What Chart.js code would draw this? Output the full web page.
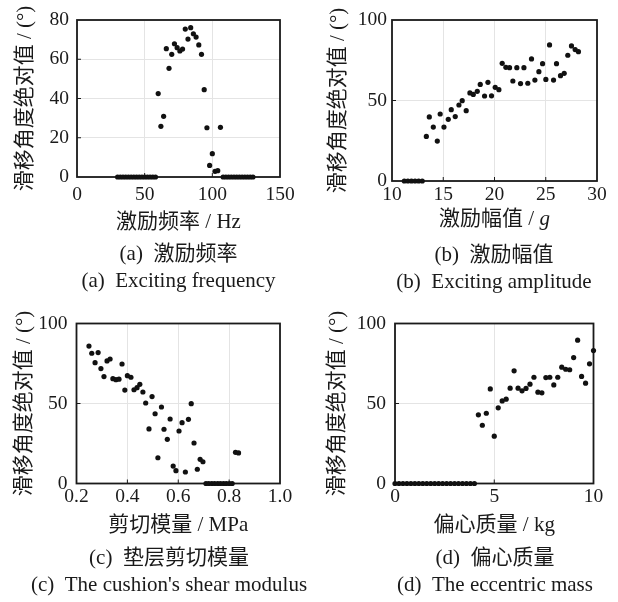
<!DOCTYPE html>
<html><head><meta charset="utf-8">
<script src="https://cdn.jsdelivr.net/npm/chart.js@4/dist/chart.umd.min.js"></script>
<style>
html,body{margin:0;padding:0;background:#fff;overflow:hidden;width:618px;height:602px;position:relative;}
canvas{position:absolute;}
</style></head><body>
<canvas id="ca" width="357" height="301" style="left:0px;top:0px"></canvas>
<canvas id="cb" width="370" height="301" style="left:309px;top:0px"></canvas>
<canvas id="cc" width="338" height="301" style="left:0px;top:301px"></canvas>
<canvas id="cd" width="372" height="301" style="left:309px;top:301px"></canvas>
<script>
// ---------- (a) exciting frequency ----------
const freqX = [30,32,34,36,38,40,42,44,46,48,50,52,54,56,58,
  60,62,64,66,68,70,72,74,76,78,80,82,84,86,88,90,92,94,96,98,100,102,104,106,
  108,110,112,114,116,118,120,122,124,126,128,130];
const freqY = [0,0,0,0,0,0,0,0,0,0,0,0,0,0,0,
  42.5,25.8,30.9,65.4,55.4,62.5,67.9,65.9,64.2,65.2,75.4,70.3,76.1,73.0,71.3,67.3,62.5,44.5,25.1,5.9,11.9,2.9,3.2,25.3,
  0,0,0,0,0,0,0,0,0,0,0,0];
const freqTicksX = [0,50,100,150];
const freqTicksY = [0,20,40,60,80];

// ---------- (b) exciting amplitude ----------
const ampX = [11.2,11.55,11.9,12.25,12.6,12.95,
  13.35,13.64,14.03,14.42,14.70,15.07,15.49,15.78,16.17,16.53,16.85,17.24,17.60,17.93,18.32,18.61,19.03,19.36,19.71,
  20.07,20.43,20.75,21.11,21.47,21.79,22.18,22.54,22.87,23.25,23.61,23.94,24.33,24.69,25.01,25.37,25.76,26.05,26.44,
  26.80,27.15,27.51,27.87,28.19];
const ampY = [0,0,0,0,0,0,
  27.7,39.8,33.5,24.8,41.6,33.5,38.3,44.3,40.0,47.2,49.9,43.7,54.7,53.8,55.7,60.0,52.8,61.3,52.9,
  58.2,56.7,73.1,70.6,70.4,62.1,70.4,60.5,70.4,60.7,75.8,62.7,67.9,72.9,63.1,84.5,62.7,72.9,65.4,
  66.9,78.1,83.9,81.6,80.3];
const ampTicksX = [10,15,20,25,30];
const ampTicksY = [0,50,100];

// ---------- (c) cushion shear modulus ----------
const modX = [0.249,0.260,0.273,0.285,0.296,0.308,0.320,0.332,0.343,0.355,0.367,0.379,0.390,0.400,0.414,0.426,
  0.438,0.449,0.461,0.472,0.485,0.497,0.509,0.520,0.534,0.544,0.557,0.568,0.580,0.591,0.603,0.615,0.628,0.640,
  0.651,0.662,0.675,0.686,0.697,
  0.709,0.720,0.732,0.743,0.755,0.766,0.778,0.789,0.801,0.812,
  0.825,0.837];
const modY = [85.9,81.4,75.5,81.8,71.8,66.8,76.6,77.8,65.5,64.9,65.2,74.7,58.4,67.4,66.4,58.6,
  59.9,62.0,57.2,50.3,34.1,54.3,43.6,16.1,47.8,33.9,27.6,40.3,10.9,8.0,32.8,38.0,7.2,40.1,
  49.9,25.3,8.9,15.1,13.6,
  0,0,0,0,0,0,0,0,0,0,
  19.5,19.1];
const modTicksX = [0.2,0.4,0.6,0.8,1.0];
const modTicksY = [0,50,100];

// ---------- (d) eccentric mass ----------
const massX = [0.0,0.2,0.4,0.6,0.8,1.0,1.2,1.4,1.6,1.8,2.0,2.2,2.4,2.6,2.8,3.0,3.2,3.4,3.6,3.8,4.0,
  4.2,4.4,4.6,4.8,5.0,5.2,5.4,5.6,5.8,6.0,6.2,6.4,6.6,6.8,7.0,7.2,7.4,7.6,7.8,8.0,8.2,8.4,8.6,8.8,
  9.0,9.2,9.4,9.6,9.8,10.0];
const massY = [0,0,0,0,0,0,0,0,0,0,0,0,0,0,0,0,0,0,0,0,0,
  42.9,36.4,43.9,59.1,29.6,47.3,51.6,52.7,59.6,70.4,59.6,57.9,59.4,62.1,66.4,57.1,56.7,66.2,66.4,61.6,66.4,72.7,71.4,71.1,
  78.7,89.6,66.9,62.7,74.8,83.1];
const massTicksX = [0,5,10];
const massTicksY = [0,50,100];

const yTitleText = '滑移角度绝对值 / (°)';

const SERIF = "'Liberation Serif','Times New Roman',serif";
const MIXED = "'Liberation Serif','Noto Sans CJK SC',serif";

const framePlugin = {
  id: 'frame',
  beforeDatasetsDraw(chart) {
    const {ctx, chartArea: a, scales} = chart;
    ctx.save();
    ctx.strokeStyle = '#1a1a1a';
    ctx.lineWidth = 1;
    scales.x.ticks.forEach(t => {
      if (t.value === scales.x.min || t.value === scales.x.max) return;
      const p = scales.x.getPixelForValue(t.value);
      ctx.beginPath(); ctx.moveTo(p, a.bottom); ctx.lineTo(p, a.bottom - 4); ctx.stroke();
    });
    scales.y.ticks.forEach(t => {
      if (t.value === scales.y.min || t.value === scales.y.max) return;
      const p = scales.y.getPixelForValue(t.value);
      ctx.beginPath(); ctx.moveTo(a.left, p); ctx.lineTo(a.left + 4, p); ctx.stroke();
    });
    ctx.lineWidth = 1.8;
    ctx.strokeRect(a.left, a.top, a.right - a.left, a.bottom - a.top);
    ctx.restore();
  }
};

// draws an x-axis title made of an upright part and an italic unit symbol
const mixedTitlePlugin = {
  id: 'mixedTitle',
  afterDraw(chart, args, opts) {
    if (!opts || !opts.upright) return;
    const {ctx, chartArea: a, scales} = chart;
    const size = 21, lh = size * 1.2;
    const cy = scales.x.bottom - lh / 2 - (opts.pad || 0);
    const f1 = 'normal ' + size + 'px ' + MIXED;
    const f2 = 'italic ' + size + 'px ' + SERIF;
    ctx.save();
    ctx.font = f1; const w1 = ctx.measureText(opts.upright).width;
    ctx.font = f2; const w2 = ctx.measureText(opts.italic).width;
    const x0 = (a.left + a.right) / 2 - (w1 + w2) / 2;
    ctx.fillStyle = '#1a1a1a';
    ctx.textBaseline = 'middle';
    ctx.textAlign = 'left';
    ctx.font = f1; ctx.fillText(opts.upright, x0, cy);
    ctx.font = f2; ctx.fillText(opts.italic, x0 + w1, cy);
    ctx.restore();
  }
};

function makePanel(id, o) {
  const pts = o.xs.map((x, i) => ({x: x, y: o.ys[i]}));
  return new Chart(document.getElementById(id), {
    type: 'scatter',
    data: {datasets: [{data: pts, pointRadius: 2.6, pointHoverRadius: 2.6,
      backgroundColor: '#111', borderWidth: 0, clip: false}]},
    options: {
      responsive: false, animation: false, devicePixelRatio: 1,
      layout: {padding: {top: o.padTop, right: 0, left: 0, bottom: 0}},
      plugins: {
        legend: {display: false}, tooltip: {enabled: false},
        title: {display: true, position: 'bottom', fullSize: true, align: 'center',
          text: o.caption, color: '#1a1a1a',
          font: {family: MIXED, size: 21, weight: 'normal', lineHeight: 27 / 21},
          padding: {top: o.capPadTop, bottom: o.capPadBottom}},
        mixedTitle: o.mixed ? {upright: o.mixed[0], italic: o.mixed[1], pad: o.xTitlePad} : {}
      },
      scales: {
        x: {type: 'linear', min: o.xTicks[0], max: o.xTicks[o.xTicks.length - 1],
          afterBuildTicks: s => { s.ticks = o.xTicks.map(v => ({value: v})); },
          afterFit: s => { s.height = o.xH; },
          border: {display: false},
          grid: {color: '#e4e4e4', lineWidth: 1, drawTicks: false},
          ticks: {padding: o.xTickPad, color: '#1a1a1a', maxRotation: 0,
            font: {family: SERIF, size: 19.5}, callback: o.xFmt},
          title: {display: !o.mixed, text: o.xTitle, color: '#1a1a1a',
            font: {family: MIXED, size: 21, lineHeight: 1.2},
            padding: {top: 0, bottom: o.xTitlePad}}
        },
        y: {type: 'linear', min: o.yTicks[0], max: o.yTicks[o.yTicks.length - 1],
          afterBuildTicks: s => { s.ticks = o.yTicks.map(v => ({value: v})); },
          afterFit: s => { s.width = o.yW; },
          border: {display: false},
          grid: {color: '#e4e4e4', lineWidth: 1, drawTicks: false},
          ticks: {padding: o.yTickPad, color: '#1a1a1a',
            font: {family: SERIF, size: 19.5}, callback: v => String(v)},
          title: {display: true, text: yTitleText, color: '#1a1a1a',
            font: {family: MIXED, size: 21, lineHeight: 1.2},
            padding: {top: o.yTitlePad, bottom: 0}}
        },
        spacer: {type: 'linear', position: 'right', display: true,
          afterFit: s => { s.width = o.padRight; },
          border: {display: false}, grid: {display: false},
          ticks: {display: false}, title: {display: false}}
      }
    },
    plugins: [framePlugin, mixedTitlePlugin]
  });
}

const intFmt = v => String(v);

makePanel('ca', {xs: freqX, ys: freqY, xTicks: freqTicksX, yTicks: freqTicksY,
  xFmt: intFmt, xTitle: '激励频率 / Hz', caption: ['(a)  激励频率', '(a)  Exciting frequency'],
  padTop: 20, padRight: 77, yW: 77, xH: 60, xTickPad: 6, xTitlePad: 2, yTickPad: 8, yTitlePad: 13,
  capPadTop: 3.5, capPadBottom: 6.5});

makePanel('cb', {xs: ampX, ys: ampY, xTicks: ampTicksX, yTicks: ampTicksY,
  xFmt: intFmt, xTitle: '激励幅值 / g', mixed: ['激励幅值 / ', 'g'],
  caption: ['(b)  激励幅值', '(b)  Exciting amplitude'],
  padTop: 20, padRight: 82, yW: 83, xH: 56, xTickPad: 2, xTitlePad: 5, yTickPad: 5, yTitlePad: 17,
  capPadTop: 4.5, capPadBottom: 5.5});

makePanel('cc', {xs: modX, ys: modY, xTicks: modTicksX, yTicks: modTicksY,
  xFmt: v => v.toFixed(1), xTitle: '剪切模量 / MPa', caption: ['(c)  垫层剪切模量', "(c)  The cushion's shear modulus"],
  padTop: 22.5, padRight: 58, yW: 76.5, xH: 55, xTickPad: 2, xTitlePad: 0.5, yTickPad: 9, yTitlePad: 12,
  capPadTop: 6, capPadBottom: 3.5});

makePanel('cd', {xs: massX, ys: massY, xTicks: massTicksX, yTicks: massTicksY,
  xFmt: intFmt, xTitle: '偏心质量 / kg', caption: ['(d)  偏心质量', '(d)  The eccentric mass'],
  padTop: 22.5, padRight: 87.5, yW: 86, xH: 55, xTickPad: 2, xTitlePad: 0.5, yTickPad: 9, yTitlePad: 16,
  capPadTop: 6, capPadBottom: 3.5});
</script>
</body></html>
